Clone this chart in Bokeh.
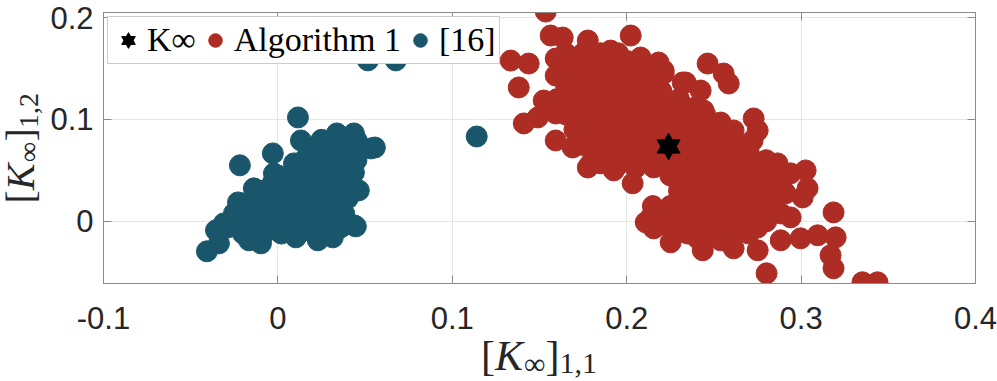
import math
from bokeh.plotting import figure
from bokeh.layouts import row, column
from bokeh.models import Range1d, LinearAxis, FixedTicker, Legend, LegendItem
from bokeh.core.properties import value
from bokeh.embed import file_html
from bokeh.resources import INLINE

# ---- data ----
star_x = [0.224]
star_y = [0.0735]

alg1_x = [
    0.1536, 0.1564, 0.1633, 0.1777, 0.2023, 0.1335, 0.1438, 0.1381, 0.1593, 0.1593,
    0.1524, 0.1410, 0.1490, 0.1593, 0.1593, 0.1690, 0.1794, 0.1908, 0.2080, 0.2183,
    0.2212, 0.2321, 0.1851, 0.1696, 0.1696, 0.1794, 0.2464, 0.2556, 0.2585, 0.2338,
    0.2424, 0.2212, 0.2441, 0.2728, 0.2751, 0.2722, 0.2613, 0.2539, 0.2865, 0.2940,
    0.2613, 0.2034, 0.1937, 0.2155, 0.1851, 0.2138, 0.2109, 0.2252, 0.2155, 0.2436,
    0.2407, 0.2539, 0.2613, 0.2751, 0.2802, 0.3026, 0.3037, 0.3009, 0.2940, 0.2883,
    0.3186, 0.3198, 0.3169, 0.3186, 0.3095, 0.2997, 0.2883, 0.3352, 0.3438, 0.2756,
    0.2883, 0.2911, 0.2693, 0.2481, 0.2327, 0.1926, 0.1851, 0.1777,
    0.165, 0.175, 0.185, 0.195,
    0.17, 0.18, 0.19, 0.20, 0.21,
    0.165, 0.175, 0.185, 0.195, 0.205, 0.215,
    0.16, 0.17, 0.18, 0.19, 0.20, 0.21, 0.22, 0.23,
    0.165, 0.175, 0.185, 0.195, 0.205, 0.215, 0.225, 0.235, 0.245,
    0.17, 0.18, 0.19, 0.20, 0.21, 0.22, 0.23, 0.24, 0.25,
    0.175, 0.185, 0.195, 0.205, 0.215, 0.225, 0.235, 0.245, 0.255, 0.265,
    0.19, 0.20, 0.21, 0.22, 0.23, 0.24, 0.25, 0.26, 0.27, 0.28,
    0.225, 0.235, 0.245, 0.255, 0.265, 0.275, 0.285,
    0.23, 0.24, 0.25, 0.26, 0.27, 0.28, 0.29,
    0.215, 0.225, 0.235, 0.245, 0.255, 0.265, 0.275, 0.285,
    0.22, 0.23, 0.24, 0.25, 0.26, 0.27, 0.28,
    0.235, 0.245, 0.26, 0.27,
    0.17, 0.18, 0.19, 0.20,
    0.165, 0.175, 0.185, 0.195, 0.205, 0.215,
    0.17, 0.18, 0.19, 0.20, 0.21, 0.22,
    0.17, 0.18, 0.19, 0.20, 0.21, 0.22, 0.23, 0.24,
    0.175, 0.185, 0.195, 0.205, 0.215, 0.225, 0.235, 0.245,
    0.18, 0.19, 0.20, 0.21, 0.22, 0.23, 0.24, 0.25, 0.26,
    0.19, 0.20, 0.21, 0.22, 0.23, 0.24, 0.25, 0.26, 0.27,
    0.205, 0.225, 0.235, 0.245, 0.255, 0.265, 0.275, 0.285,
    0.23, 0.24, 0.25, 0.26, 0.27, 0.28,
    0.23, 0.24, 0.25, 0.26, 0.27, 0.28,
    0.22, 0.23, 0.24, 0.25, 0.26, 0.27, 0.28,
    0.225, 0.235, 0.25, 0.265, 0.275,
]
alg1_y = [
    0.2059, 0.1824, 0.1804, 0.1775, 0.1824, 0.1578, 0.1549, 0.1314, 0.1598, 0.1431,
    0.1186, 0.0961, 0.1020, 0.1059, 0.0794, 0.0725, 0.0569, 0.1676, 0.1608, 0.1559,
    0.1480, 0.1363, 0.1510, 0.1510, 0.1186, 0.1059, 0.1549, 0.1451, 0.1353, 0.1363,
    0.1284, 0.1451, 0.1088, 0.1010, 0.0892, 0.0794, 0.0892, 0.0970, 0.0569, 0.0471,
    0.0667, 0.0373, 0.0529, 0.0529, 0.0667, 0.0039, -0.0010, -0.0206, -0.0069, -0.0284,
    -0.0167, -0.0186, -0.0265, -0.0284, -0.0510, 0.0500, 0.0324, 0.0235, 0.0039, 0.0078,
    0.0088, -0.0157, -0.0333, -0.0461, -0.0137, -0.0167, -0.0186, -0.0598, -0.0598, 0.0500,
    0.0373, 0.0275, -0.0059, 0.0039, 0.0039, 0.0500, 0.0569, 0.0529,
    0.165, 0.165, 0.165, 0.165,
    0.15, 0.15, 0.15, 0.15, 0.15,
    0.135, 0.135, 0.135, 0.135, 0.135, 0.135,
    0.12, 0.12, 0.12, 0.12, 0.12, 0.12, 0.12, 0.12,
    0.105, 0.105, 0.105, 0.105, 0.105, 0.105, 0.105, 0.105, 0.105,
    0.09, 0.09, 0.09, 0.09, 0.09, 0.09, 0.09, 0.09, 0.09,
    0.075, 0.075, 0.075, 0.075, 0.075, 0.075, 0.075, 0.075, 0.075, 0.075,
    0.06, 0.06, 0.06, 0.06, 0.06, 0.06, 0.06, 0.06, 0.06, 0.06,
    0.045, 0.045, 0.045, 0.045, 0.045, 0.045, 0.045,
    0.03, 0.03, 0.03, 0.03, 0.03, 0.03, 0.03,
    0.015, 0.015, 0.015, 0.015, 0.015, 0.015, 0.015, 0.015,
    0.0, 0.0, 0.0, 0.0, 0.0, 0.0, 0.0,
    -0.012, -0.012, -0.012, -0.012,
    0.1575, 0.1575, 0.1575, 0.1575,
    0.1425, 0.1425, 0.1425, 0.1425, 0.1425, 0.1425,
    0.1275, 0.1275, 0.1275, 0.1275, 0.1275, 0.1275,
    0.1125, 0.1125, 0.1125, 0.1125, 0.1125, 0.1125, 0.1125, 0.1125,
    0.0975, 0.0975, 0.0975, 0.0975, 0.0975, 0.0975, 0.0975, 0.0975,
    0.0825, 0.0825, 0.0825, 0.0825, 0.0825, 0.0825, 0.0825, 0.0825, 0.0825,
    0.0675, 0.0675, 0.0675, 0.0675, 0.0675, 0.0675, 0.0675, 0.0675, 0.0675,
    0.0525, 0.0525, 0.0525, 0.0525, 0.0525, 0.0525, 0.0525, 0.0525,
    0.0375, 0.0375, 0.0375, 0.0375, 0.0375, 0.0375,
    0.0225, 0.0225, 0.0225, 0.0225, 0.0225, 0.0225,
    0.0075, 0.0075, 0.0075, 0.0075, 0.0075, 0.0075, 0.0075,
    -0.006, -0.006, -0.006, -0.006, -0.006,
]

ref16_x = [
    0.0115, -0.0218, -0.0029, 0.0132, 0.0338, 0.0436, 0.0556, 0.0533, 0.0418, 0.0464,
    0.0447, 0.0436, -0.0407, -0.0338, -0.0355, -0.0310, -0.0229, -0.0138, -0.0166, -0.0097,
    0.0103, 0.0229, 0.0315, 0.0344, 0.0350, 0.0401, 0.0436, 0.0264, 0.0206, 0.0092,
    -0.0023, -0.0115, -0.0195, -0.0252, -0.0287,
    0.114, 0.0516, 0.0676,
    0.025, 0.035, 0.045,
    0.02, 0.03, 0.04,
    0.015, 0.025, 0.035, 0.045,
    0.0, 0.01, 0.02, 0.03, 0.038,
    -0.008, 0.002, 0.012, 0.022, 0.032,
    -0.015, -0.005, 0.005, 0.015, 0.025, 0.033,
    -0.025, -0.015, -0.005, 0.005, 0.015, 0.025, 0.035,
    -0.02, -0.008, 0.002, 0.012, 0.022, 0.03,
    0.01, 0.02, 0.03, 0.04,
    -0.003, 0.007, 0.017, 0.027, 0.037,
    -0.01, 0.0, 0.01, 0.02, 0.03, 0.04,
    -0.02, -0.01, 0.0, 0.01, 0.02, 0.03, 0.038,
    -0.022, -0.012, -0.002, 0.008, 0.018, 0.028, 0.036,
]
ref16_y = [
    0.1020, 0.0550, 0.0667, 0.0794, 0.0863, 0.0863, 0.0725, 0.0716, 0.0500, 0.0304,
    -0.0049, -0.0039, -0.0294, -0.0216, -0.0088, -0.0020, 0.0186, 0.0324, -0.0186, -0.0216,
    -0.0157, -0.0186, -0.0157, 0.0137, 0.0255, 0.0529, 0.0480, 0.0765, 0.0725, 0.0569,
    0.0470, 0.0304, 0.0176, 0.0078, -0.0059,
    0.0833, 0.158, 0.158,
    0.08, 0.08, 0.08,
    0.07, 0.07, 0.07,
    0.06, 0.06, 0.06, 0.06,
    0.045, 0.045, 0.045, 0.045, 0.045,
    0.03, 0.03, 0.03, 0.03, 0.03,
    0.015, 0.015, 0.015, 0.015, 0.015, 0.015,
    0.0, 0.0, 0.0, 0.0, 0.0, 0.0, 0.0,
    -0.012, -0.012, -0.012, -0.012, -0.012, -0.012,
    0.0525, 0.0525, 0.0525, 0.0525,
    0.0375, 0.0375, 0.0375, 0.0375, 0.0375,
    0.0225, 0.0225, 0.0225, 0.0225, 0.0225, 0.0225,
    0.0075, 0.0075, 0.0075, 0.0075, 0.0075, 0.0075, 0.0075,
    -0.006, -0.006, -0.006, -0.006, -0.006, -0.006, -0.006,
]

x_ticks = [-0.1, 0.0, 0.1, 0.2, 0.3, 0.4]
x_tick_labels = ["-0.1", "0", "0.1", "0.2", "0.3", "0.4"]
y_ticks = [0.0, 0.1, 0.2]
y_tick_labels = ["0", "0.1", "0.2"]
legend_labels = ["K\u221e", "Algorithm 1", "[16]"]

RED = "#ad2c24"
TEAL = "#1a566b"
AXC = "#8a8a8a"
TXT = "#262626"
SERIF = "Liberation Serif"
SANS = "Liberation Sans"

# ---- main plot (frame + y ticks) ----
p = figure(width=952, height=287, x_range=Range1d(-0.1, 0.4), y_range=Range1d(-0.061, 0.205),
           output_backend="svg", toolbar_location=None,
           min_border_left=58, min_border_right=22, min_border_top=12, min_border_bottom=4)
p.outline_line_color = AXC

r_teal = p.scatter(ref16_x, ref16_y, size=21, color=TEAL, line_color=TEAL)
r_red = p.scatter(alg1_x, alg1_y, size=21, color=RED, line_color=RED)
tri = p.scatter(star_x, star_y, marker="triangle", size=23, color="black")
itri = p.scatter(star_x, star_y, marker="inverted_triangle", size=23, color="black")

top_ax = LinearAxis()
right_ax = LinearAxis()
p.add_layout(top_ax, "above")
p.add_layout(right_ax, "right")
bottom_ax = p.below[0]
left_ax = p.left[0]

xt = FixedTicker(ticks=x_ticks)
yt = FixedTicker(ticks=y_ticks)
for ax in (bottom_ax, top_ax):
    ax.ticker = xt
for ax in (left_ax, right_ax):
    ax.ticker = yt

for ax in (bottom_ax, top_ax, left_ax, right_ax):
    ax.axis_line_color = AXC
    ax.major_tick_line_color = AXC
    ax.major_tick_in = 8
    ax.major_tick_out = 0
    ax.minor_tick_line_color = None
    ax.major_label_text_font = SANS
    ax.major_label_text_font_size = "31px"
    ax.major_label_text_color = TXT

left_ax.major_label_overrides = {t: s for t, s in zip(y_ticks, y_tick_labels)}
left_ax.major_label_standoff = 10
for ax in (top_ax, right_ax, bottom_ax):
    ax.major_label_text_color = None
    ax.major_label_text_font_size = "2px"
    ax.major_label_standoff = 0

p.xgrid.grid_line_color = "#e6e6e6"
p.ygrid.grid_line_color = "#e6e6e6"

legend = Legend(items=[LegendItem(label=legend_labels[0], renderers=[tri, itri]),
                       LegendItem(label=legend_labels[1], renderers=[r_red]),
                       LegendItem(label=legend_labels[2], renderers=[r_teal])],
                orientation="horizontal", location="top_left", margin=4, padding=3,
                spacing=2, label_standoff=2, glyph_width=34, glyph_height=40,
                label_height=40, label_text_font=SERIF,
                label_text_font_size="34px", label_text_color="black",
                border_line_color="#9a9a9a", background_fill_alpha=1.0)
p.add_layout(legend)


def piece(f, x, y, text, size, style="normal", angle=0.0, **kw):
    f.text(x=[x], y=[y], text=[text], text_font=value(SERIF), text_font_size=value(size),
           text_font_style=value(style), text_color=TXT, angle=angle,
           text_align="left", text_baseline="alphabetic", **kw)


# ---- strip below: x tick labels + x axis label ----
xs = figure(width=952, height=94, x_range=p.x_range, y_range=Range1d(0, 45),
            output_backend="svg", toolbar_location=None,
            min_border_left=58, min_border_right=22, min_border_top=49, min_border_bottom=0,
            x_axis_location=None, y_axis_location=None)
xs.grid.visible = False
xs.outline_line_color = None
xs.extra_x_ranges = {"px": Range1d(0, 872)}
tick_ax = LinearAxis(ticker=FixedTicker(ticks=x_ticks),
                     major_label_overrides={t: s for t, s in zip(x_ticks, x_tick_labels)},
                     axis_line_color=None, major_tick_line_color=None, minor_tick_line_color=None,
                     major_label_standoff=2, major_label_text_font=SANS,
                     major_label_text_font_size="31px", major_label_text_color=TXT)
xs.add_layout(tick_ax, "above")

bx, by, sb = 377.5, 26, 18.5
piece(xs, bx, by, "[", "42px", x_range_name="px")
piece(xs, bx + 14, by, "K", "42px", "italic", x_range_name="px")
piece(xs, bx + 43, sb, "\u221e", "30px", x_range_name="px")
piece(xs, bx + 64.5, by, "]", "42px", x_range_name="px")
piece(xs, bx + 78.5, sb, "1,1", "30px", x_range_name="px")

# ---- strip left: y axis label ----
yl = figure(width=45, height=381, x_range=Range1d(0, 45), y_range=Range1d(0, 381),
            output_backend="svg", toolbar_location=None, min_border=0,
            x_axis_location=None, y_axis_location=None)
yl.grid.visible = False
yl.outline_line_color = None
A = math.pi / 2
lx, ls, ly = 19.5, 28, 178
piece(yl, lx, ly, "[", "40px", angle=A)
piece(yl, lx, ly + 13.3, "K", "40px", "italic", angle=A)
piece(yl, ls, ly + 41.5, "\u221e", "28px", angle=A)
piece(yl, lx, ly + 62, "]", "40px", angle=A)
piece(yl, ls, ly + 75.5, "1,2", "28px", angle=A)

layout = row(yl, column(p, xs, spacing=0), spacing=0)
open("out.html", "w").write(file_html(layout, INLINE))
